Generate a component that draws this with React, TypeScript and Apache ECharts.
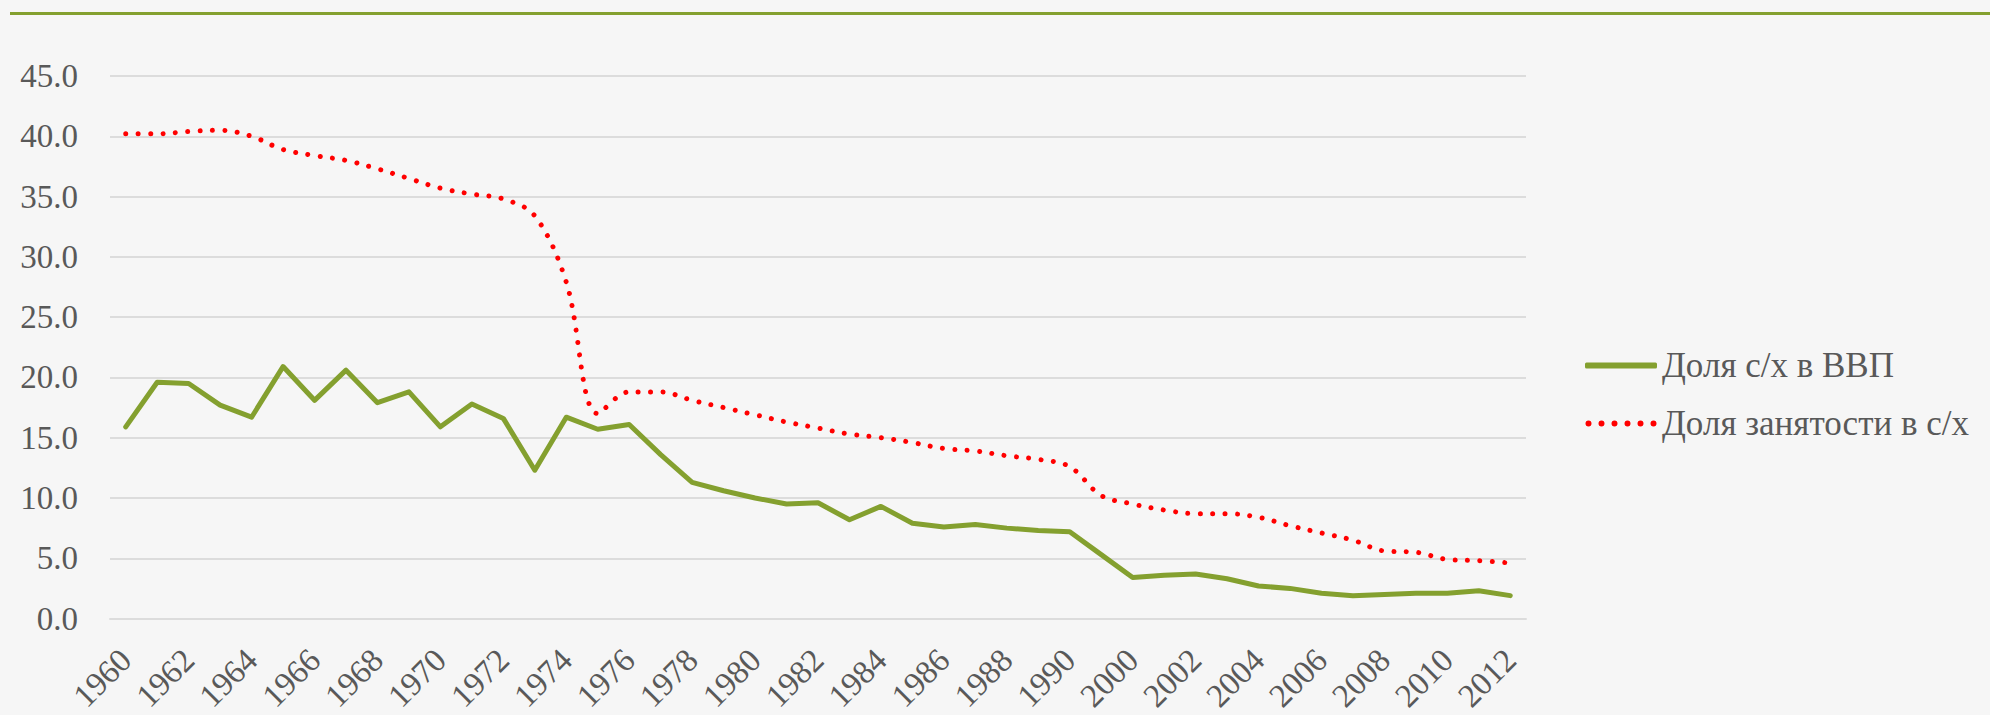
import React, { useEffect, useRef } from "react";
import * as echarts from "echarts";

const years: string[] = [
  "1960", "1961", "1962", "1963", "1964", "1965", "1966", "1967", "1968", "1969",
  "1970", "1971", "1972", "1973", "1974", "1975", "1976", "1977", "1978", "1979",
  "1980", "1981", "1982", "1983", "1984", "1985", "1986", "1987", "1988", "1989",
  "1990", "1995", "2000", "2001", "2002", "2003", "2004", "2005", "2006", "2007",
  "2008", "2009", "2010", "2011", "2012",
];

const gdpShare: number[] = [
  15.9, 19.6, 19.5, 17.7, 16.7, 20.9, 18.1, 20.6, 17.9, 18.8,
  15.9, 17.8, 16.6, 12.3, 16.7, 15.7, 16.1, 13.6, 11.3, 10.6,
  10.0, 9.5, 9.6, 8.2, 9.3, 7.9, 7.6, 7.8, 7.5, 7.3,
  7.2, 5.3, 3.4, 3.6, 3.7, 3.3, 2.7, 2.5, 2.1, 1.9,
  2.0, 2.1, 2.1, 2.3, 1.9,
];

const employmentShare: number[] = [
  40.2, 40.2, 40.4, 40.5, 40.0, 38.9, 38.4, 38.0, 37.3, 36.5,
  35.7, 35.2, 34.8, 33.4, 27.9, 17.0, 18.8, 18.8, 18.1, 17.5,
  16.9, 16.3, 15.8, 15.3, 15.0, 14.6, 14.1, 13.9, 13.5, 13.2,
  12.6, 10.2, 9.5, 9.0, 8.7, 8.7, 8.4, 7.7, 7.1, 6.5,
  5.6, 5.5, 4.9, 4.8, 4.6,
];

const seriesNames: string[] = ["Доля с/х в ВВП", "Доля занятости в с/х"];

const GREEN = "#84A02F";
const RED = "#FF0000";
const TEXT = "#595959";
const FONT = "Times New Roman, Liberation Serif, serif";

function dotsPath(): string {
  const r = 3;
  const parts: string[] = [];
  for (let i = 0; i < 6; i++) {
    const cx = 3 + i * 13;
    parts.push(
      `M${cx - r} 3A${r} ${r} 0 1 0 ${cx + r} 3A${r} ${r} 0 1 0 ${cx - r} 3Z`
    );
  }
  return "path://" + parts.join("");
}

export default function App() {
  const ref = useRef<HTMLDivElement>(null);

  useEffect(() => {
    if (!ref.current) return;
    const chart = echarts.init(ref.current, null, { renderer: "svg" });
    chart.setOption({
      animation: false,
      backgroundColor: "#f6f6f6",
      textStyle: { fontFamily: FONT },
      grid: { left: 110, right: 464, top: 76, bottom: 95, containLabel: false },
      graphic: [
        {
          type: "rect",
          shape: { x: 10, y: 12, width: 1980, height: 3 },
          style: { fill: GREEN },
          silent: true,
        },
      ],
      legend: {
        orient: "vertical",
        left: 1580,
        top: 343,
        itemWidth: 72,
        itemHeight: 6,
        itemGap: 23,
        textStyle: {
          fontFamily: FONT,
          fontSize: 35,
          color: TEXT,
          lineHeight: 35,
        },
        data: [
          { name: seriesNames[0], icon: "roundRect", itemStyle: { color: GREEN } },
          { name: seriesNames[1], icon: dotsPath(), itemStyle: { color: RED } },
        ],
      },
      xAxis: {
        type: "category",
        data: years,
        boundaryGap: true,
        axisLine: { show: true, lineStyle: { color: "#dcdcdc", width: 2 } },
        axisTick: { show: false },
        axisLabel: {
          interval: 1,
          rotate: 45,
          margin: 36,
          fontSize: 33,
          fontFamily: FONT,
          color: TEXT,
        },
        splitLine: { show: false },
      },
      yAxis: {
        type: "value",
        min: 0,
        max: 45,
        interval: 5,
        axisLine: { show: false },
        axisTick: { show: false },
        axisLabel: {
          margin: 32,
          fontSize: 33,
          fontFamily: FONT,
          color: TEXT,
          formatter: (v: number) => v.toFixed(1),
        },
        splitLine: { show: true, lineStyle: { color: "#dcdcdc", width: 2 } },
      },
      series: [
        {
          name: seriesNames[0],
          type: "line",
          data: gdpShare,
          symbol: "none",
          showSymbol: false,
          lineStyle: { color: GREEN, width: 5, cap: "round", join: "round" },
          itemStyle: { color: GREEN },
        },
        {
          name: seriesNames[1],
          type: "line",
          data: employmentShare,
          symbol: "none",
          showSymbol: false,
          smooth: 0.35,
          lineStyle: {
            color: RED,
            width: 5,
            type: [0.01, 12.4],
            cap: "round",
          },
          itemStyle: { color: RED },
        },
      ],
    });
    return () => chart.dispose();
  }, []);

  return (
    <div
      ref={ref}
      style={{ position: "fixed", left: 0, top: 0, width: 1990, height: 715 }}
    />
  );
}
